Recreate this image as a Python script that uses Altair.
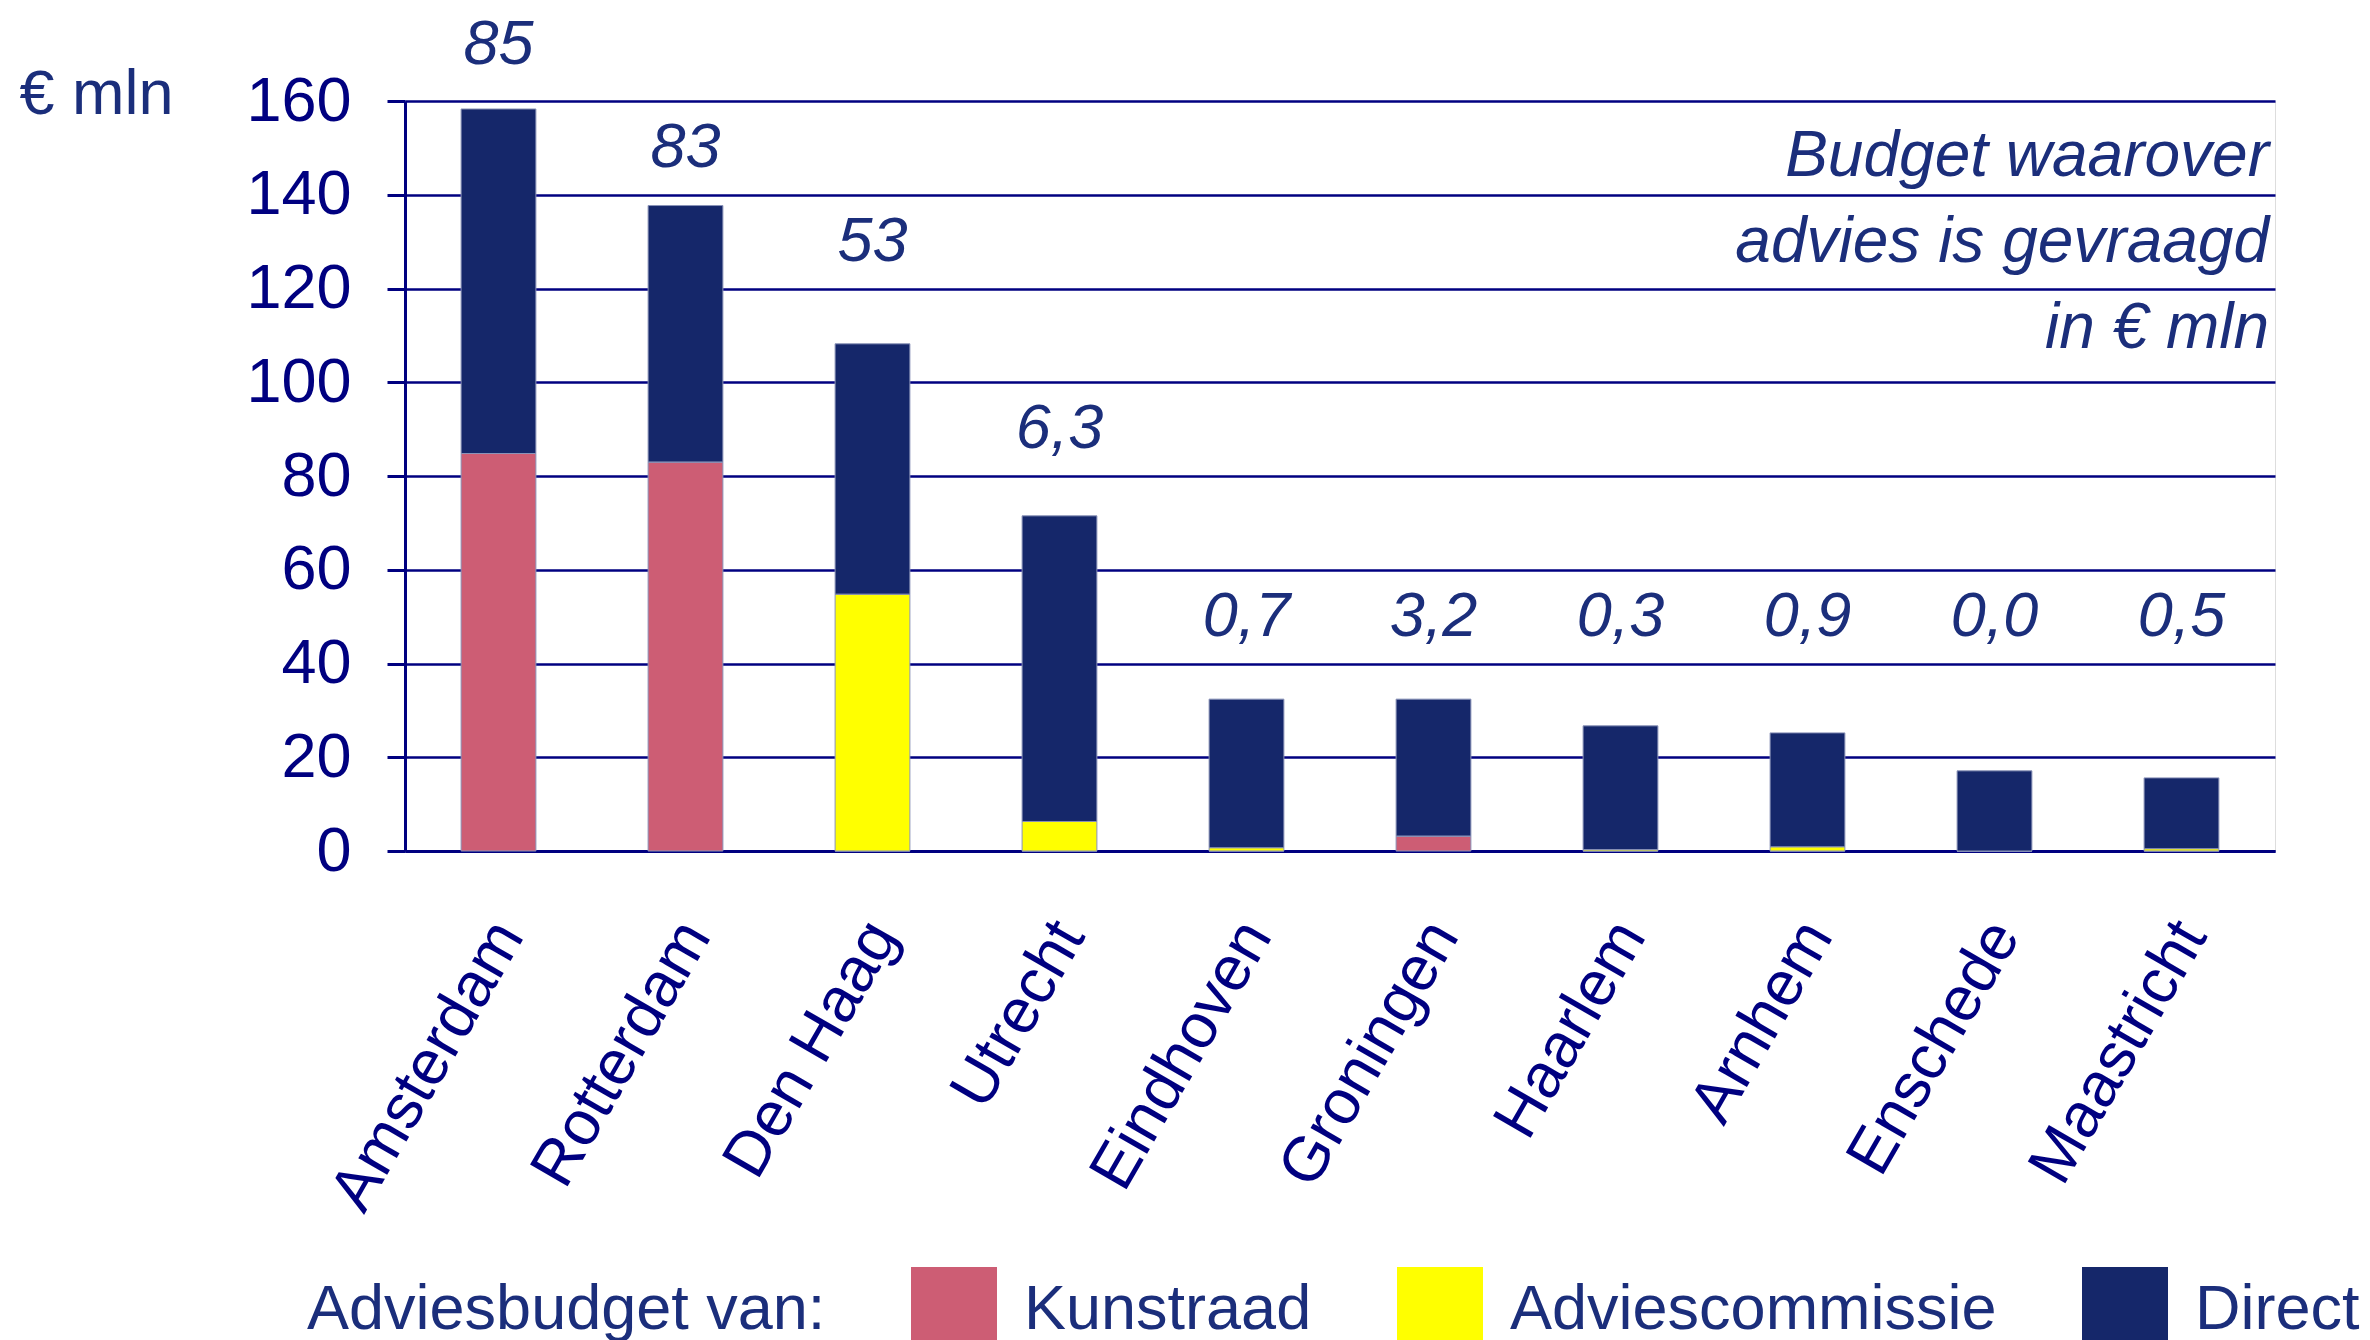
import altair as alt
import pandas as pd

cities = ["Amsterdam", "Rotterdam", "Den Haag", "Utrecht", "Eindhoven",
          "Groningen", "Haarlem", "Arnhem", "Enschede", "Maastricht"]
kunstraad = [84.8, 83.0, 0.0, 0.0, 0.0, 3.2, 0.0, 0.0, 0.0, 0.0]
adviescommissie = [0.0, 0.0, 54.8, 6.3, 0.7, 0.0, 0.3, 0.9, 0.0, 0.5]
direct = [73.5, 54.7, 53.4, 65.2, 31.7, 29.2, 26.4, 24.3, 17.1, 15.1]
advies_labels = ["85", "83", "53", "6,3", "0,7", "3,2", "0,3", "0,9", "0,0", "0,5"]
label_levels = [172, 150, 130, 90, 50, 50, 50, 50, 50, 50]
series = ["Kunstraad", "Adviescommissie", "Direct"]
series_colors = ["#CD5D74", "#FFFF00", "#15276A"]
y_ticks = [0, 20, 40, 60, 80, 100, 120, 140, 160]
note_lines = ["Budget waarover", "advies is gevraagd", "in € mln"]

rows = []
for i, c in enumerate(cities):
    for k, (s, vals) in enumerate(zip(series, [kunstraad, adviescommissie, direct])):
        rows.append({"city": c, "serie": s, "value": vals[i], "idx": k})
bars_df = pd.DataFrame(rows)
labels_df = pd.DataFrame({"city": cities, "label": advies_labels, "level": label_levels})

NAVY = "#000080"
TXT = "#1B2E7B"
FONT = "Liberation Sans"

W, H = 1870, 750

x_enc = alt.X(
    "city:N", sort=cities,
    scale=alt.Scale(paddingInner=0.6, paddingOuter=0.3),
    axis=alt.Axis(
        title=None, labelAngle=-60, labelAlign="right", labelBaseline="middle",
        labelFontSize=63, labelColor=NAVY, labelPadding=75, labelOffset=10,
        labelLimit=1000, labelOverlap=False,
        ticks=False, domainColor=NAVY, domainWidth=3, grid=False, labelFont=FONT,
    ),
)

bars = alt.Chart(bars_df).mark_bar(stroke="#8a93b8", strokeWidth=1).encode(
    x=x_enc,
    y=alt.Y(
        "value:Q", stack="zero",
        scale=alt.Scale(domain=[0, 160], nice=False),
        axis=alt.Axis(
            values=y_ticks, title="€ mln", titleAngle=0, titleX=-386, titleY=12,
            titleAlign="left", titleBaseline="alphabetic", titleFontSize=63,
            titleFontWeight="normal", titleColor=TXT, titleFont=FONT,
            labelFontSize=63, labelColor=NAVY, labelFont=FONT, labelPadding=36,
            tickSize=18, tickColor=NAVY, tickWidth=3,
            domainColor=NAVY, domainWidth=3,
            grid=True, gridColor=NAVY, gridWidth=2.5, gridOpacity=1,
        ),
    ),
    color=alt.Color(
        "serie:N",
        scale=alt.Scale(domain=series, range=series_colors),
        legend=alt.Legend(
            title="Adviesbudget van:", orient="none", legendX=-98, legendY=1166,
            direction="horizontal", titleOrient="left",
            titleAnchor="middle", titleBaseline="middle",
            titleFontSize=63, titleFontWeight="normal", titleColor=TXT, titleFont=FONT,
            titlePadding=85, labelFontSize=63, labelColor=TXT, labelFont=FONT,
            labelOffset=27, columnPadding=85, symbolType="square",
            symbolSize=7396, symbolStrokeWidth=0, symbolOpacity=1,
            labelLimit=1000, titleLimit=1000,
        ),
    ),
    order=alt.Order("idx:Q", sort="ascending"),
)

value_labels = alt.Chart(labels_df).mark_text(
    fontSize=63, fontStyle="italic", color=TXT, baseline="middle", align="center", font=FONT
).encode(
    x=alt.X("city:N", sort=cities),
    y=alt.Y("level:Q"),
    text="label:N",
)

note = alt.Chart(pd.DataFrame({"k": [0]})).mark_text(
    fontSize=64, fontStyle="italic", color=TXT, align="right", baseline="alphabetic",
    lineHeight=86, font=FONT,
).encode(
    x=alt.value(W - 6),
    y=alt.value(75),
    text=alt.value(note_lines),
)

chart = alt.layer(bars, value_labels, note).properties(
    width=W, height=H,
    autosize=alt.AutoSizeParams(type="none"),
    padding={"left": 405, "top": 101, "right": 95, "bottom": 489},
    background="white",
).configure_view(stroke=None).configure(font=FONT)

chart.save("out.html", embed_options={"renderer": "svg", "actions": False})
